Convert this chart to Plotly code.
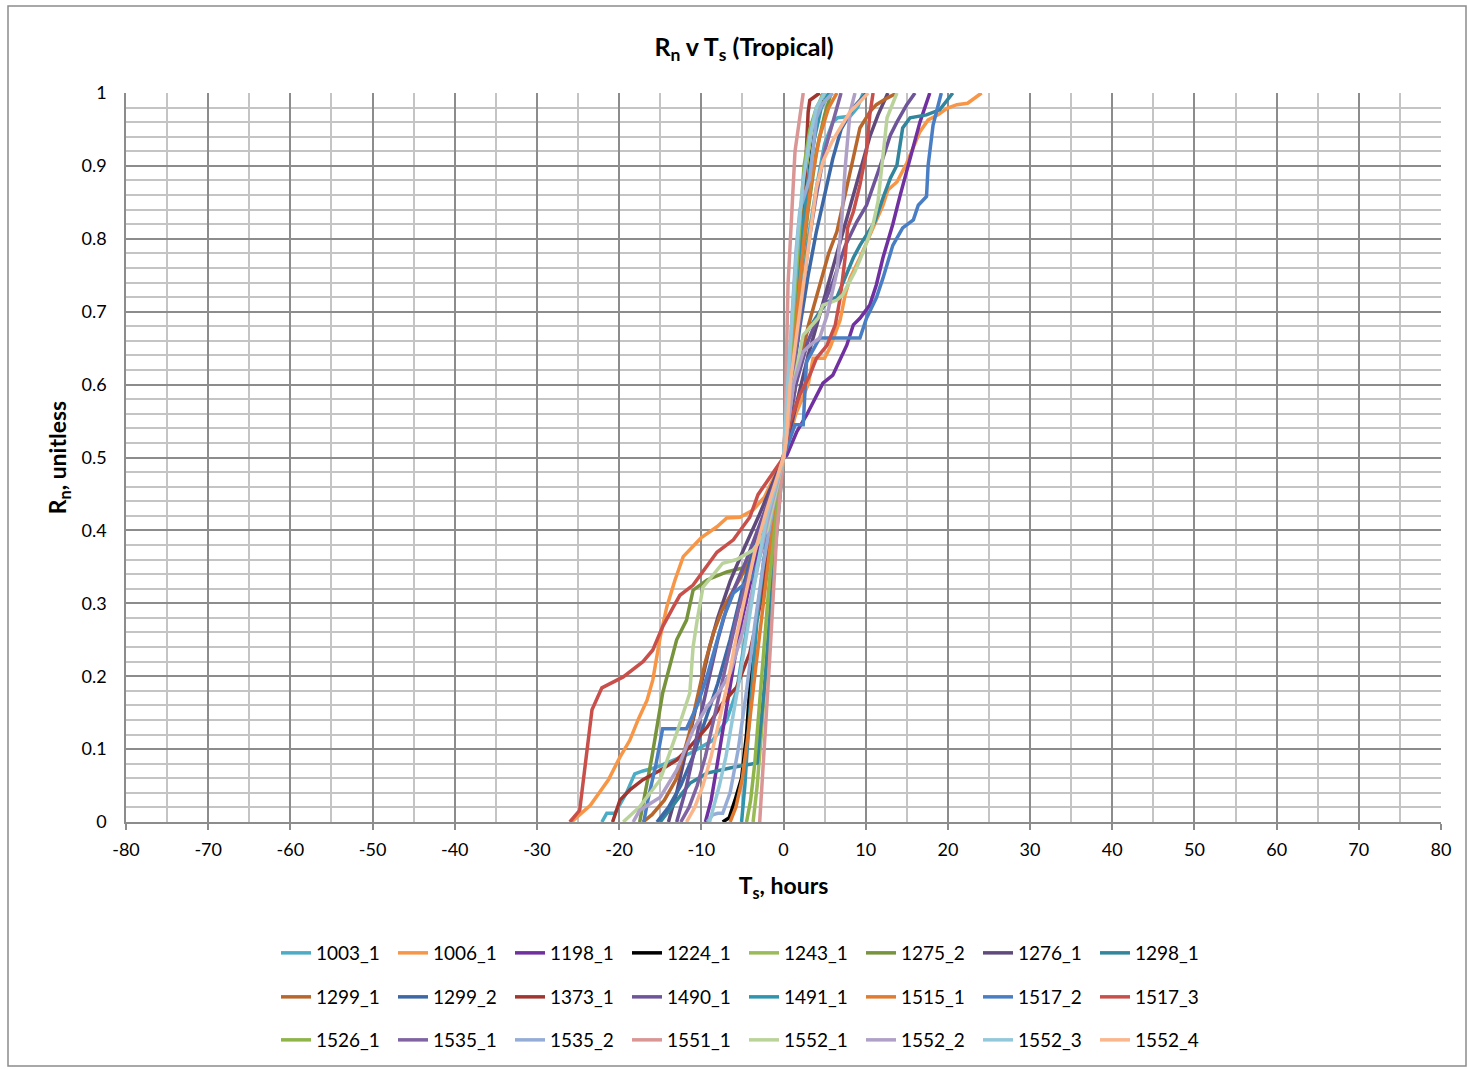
import plotly.graph_objects as go

# ---------------- data ----------------
series_names = ["1003_1", "1006_1", "1198_1", "1224_1", "1243_1", "1275_2", "1276_1", "1298_1",
                "1299_1", "1299_2", "1373_1", "1490_1", "1491_1", "1515_1", "1517_2", "1517_3",
                "1526_1", "1535_1", "1535_2", "1551_1", "1552_1", "1552_2", "1552_3", "1552_4"]

series_colors = ["#4BACC6", "#F79646", "#7030A0", "#000000", "#9BBB59", "#77933C", "#604A7B", "#31859C",
                 "#B7662C", "#3C68A6", "#A0362F", "#6E5599", "#2F95AE", "#E07B30", "#4A7EC4", "#C9504A",
                 "#8EB44A", "#8064A2", "#95ADD6", "#D99694", "#BAD39A", "#AFA0C8", "#93C8DA", "#FAB68C"]

t_1003_1 = [-22.1, -21.5, -20.5, -19.1, -18.1, -17.1, -15.5, -14.2, -11.4, -8.6, -6.9, -5.7, -4.9, -4.0, -3.0, -1.5, 0.0,
            1.0, 2.0, 3.0, 4.0, 5.0, 6.0, 6.6, 8.1, 9.0, 9.7]
rn_1003_1 = [0.0, 0.012, 0.012, 0.04, 0.066, 0.07, 0.075, 0.081, 0.094, 0.112, 0.14, 0.18, 0.236, 0.3, 0.37, 0.44, 0.5,
             0.6, 0.7, 0.8, 0.87, 0.93, 0.96, 0.966, 0.968, 0.98, 1.0]

t_1006_1 = [-25.8, -23.5, -21.3, -19.9, -18.7, -17.7, -16.6, -15.9, -15.0, -14.2, -13.2, -12.2, -10.0, -8.1, -6.9, -5.3,
            -3.7, -2.3, 0.0, 1.5, 3.0, 3.6, 5.0, 5.7, 6.9, 7.5, 8.1, 9.3, 10.9, 12.1, 12.7, 13.8, 15.0, 16.6, 17.6, 18.8,
            19.9, 21.1, 22.4, 24.1]
rn_1006_1 = [0.0, 0.023, 0.058, 0.089, 0.112, 0.14, 0.167, 0.195, 0.254, 0.295, 0.332, 0.364, 0.39, 0.405, 0.417, 0.418,
             0.428, 0.446, 0.5, 0.56, 0.6, 0.636, 0.636, 0.652, 0.689, 0.723, 0.746, 0.774, 0.815, 0.846, 0.867, 0.878,
             0.904, 0.947, 0.963, 0.97, 0.979, 0.984, 0.986, 1.0]

t_1198_1 = [-9.5, -8.8, -8.2, -7.5, -6.8, -6.0, -5.0, -4.0, -3.0, -1.5, 0.0, 0.4, 1.6, 2.8, 3.6, 4.8, 6.0, 7.7, 8.5, 9.3,
            10.5, 11.3, 12.1, 13.3, 14.2, 15.4, 16.6, 17.8]
rn_1198_1 = [0.0, 0.03, 0.07, 0.12, 0.17, 0.22, 0.28, 0.33, 0.38, 0.44, 0.5, 0.503, 0.535, 0.558, 0.576, 0.602, 0.613,
             0.654, 0.682, 0.691, 0.709, 0.737, 0.774, 0.82, 0.86, 0.91, 0.96, 1.0]

t_1224_1 = [-7.4, -6.6, -5.9, -5.1, -4.5, -4.0, -3.3, -2.3, -1.2, 0.0, 0.8, 1.6, 2.4, 3.2, 4.0, 4.8]
rn_1224_1 = [0.0, 0.006, 0.03, 0.06, 0.12, 0.2, 0.28, 0.36, 0.43, 0.5, 0.6, 0.7, 0.8, 0.9, 0.96, 1.0]

t_1243_1 = [-3.7, -3.2, -2.7, -2.1, -1.4, -0.7, 0.0, 0.6, 1.3, 2.0, 2.8, 3.5, 4.8]
rn_1243_1 = [0.0, 0.05, 0.12, 0.22, 0.33, 0.42, 0.5, 0.6, 0.7, 0.8, 0.9, 0.96, 1.0]

t_1275_2 = [-17.5, -16.6, -16.0, -14.7, -13.0, -11.8, -11.0, -9.3, -6.9, -4.5, -2.5, 0.0, 1.0, 2.0, 3.0, 4.0, 5.0, 5.8]
rn_1275_2 = [0.0, 0.053, 0.09, 0.177, 0.25, 0.277, 0.318, 0.332, 0.343, 0.35, 0.4, 0.5, 0.62, 0.74, 0.84, 0.92, 0.97, 1.0]

t_1276_1 = [-14.0, -13.0, -12.0, -11.0, -10.0, -9.0, -8.0, -6.5, -5.0, -3.0, 0.0, 1.5, 3.0, 4.5, 6.0, 7.5, 9.0, 10.5,
            11.5, 12.7]
rn_1276_1 = [0.0, 0.04, 0.09, 0.14, 0.19, 0.24, 0.28, 0.33, 0.37, 0.42, 0.5, 0.57, 0.64, 0.7, 0.76, 0.82, 0.88, 0.94,
             0.97, 1.0]

t_1298_1 = [-15.0, -13.0, -11.4, -9.3, -6.1, -3.2, -2.2, -1.2, 0.0, 1.0, 2.4, 4.4, 5.3, 6.5, 8.5, 9.3, 10.1, 11.1, 12.1,
            13.0, 13.8, 14.2, 14.5, 15.4, 17.4, 19.0, 20.6]
rn_1298_1 = [0.0, 0.03, 0.053, 0.067, 0.075, 0.081, 0.2, 0.35, 0.5, 0.58, 0.664, 0.7, 0.713, 0.72, 0.774, 0.791, 0.805,
             0.823, 0.856, 0.883, 0.901, 0.929, 0.952, 0.966, 0.97, 0.977, 1.0]

t_1299_1 = [-17.1, -16.0, -14.5, -13.0, -11.5, -10.5, -9.5, -8.5, -7.5, -6.0, -4.0, -2.0, 0.0, 1.5, 3.0, 4.5, 5.5, 6.5,
            7.2, 8.1, 9.3, 10.5, 11.3, 12.6, 13.8]
rn_1299_1 = [0.0, 0.01, 0.03, 0.06, 0.12, 0.17, 0.22, 0.26, 0.29, 0.32, 0.36, 0.42, 0.5, 0.6, 0.68, 0.74, 0.78, 0.81,
             0.846, 0.892, 0.952, 0.974, 0.984, 0.993, 1.0]

t_1299_2 = [-15.4, -14.0, -12.5, -11.0, -9.5, -8.0, -6.5, -5.0, -3.5, -2.0, 0.0, 1.0, 2.0, 3.0, 4.0, 5.0, 6.0, 7.0, 8.5,
            10.1]
rn_1299_2 = [0.0, 0.02, 0.05, 0.09, 0.14, 0.19, 0.25, 0.32, 0.38, 0.43, 0.5, 0.6, 0.68, 0.75, 0.81, 0.86, 0.91, 0.95,
             0.98, 1.0]

t_1373_1 = [-20.8, -19.9, -18.7, -17.1, -15.0, -13.0, -11.4, -9.3, -7.4, -5.7, -4.1, -2.8, -1.5, 0.0, 0.8, 1.5, 2.2,
            2.6, 3.0, 3.2, 4.4]
rn_1373_1 = [0.0, 0.03, 0.044, 0.058, 0.071, 0.085, 0.103, 0.13, 0.163, 0.185, 0.232, 0.3, 0.4, 0.5, 0.6, 0.7, 0.782,
             0.874, 0.974, 0.99, 1.0]

t_1490_1 = [-13.0, -12.0, -11.0, -10.0, -9.0, -8.0, -7.0, -6.0, -4.5, -2.5, 0.0, 1.5, 3.0, 4.5, 6.0, 7.5, 8.9, 10.1,
            11.3, 12.1, 13.0, 13.8, 15.0, 16.0]
rn_1490_1 = [0.0, 0.04, 0.09, 0.15, 0.2, 0.25, 0.29, 0.32, 0.36, 0.42, 0.5, 0.6, 0.66, 0.7, 0.74, 0.79, 0.823, 0.846,
             0.883, 0.911, 0.942, 0.96, 0.984, 1.0]

t_1491_1 = [-5.1, -4.7, -4.3, -3.8, -3.2, -2.4, -1.3, 0.0, 0.8, 1.5, 2.2, 3.0, 3.8, 4.6, 5.5]
rn_1491_1 = [0.0, 0.05, 0.12, 0.2, 0.28, 0.36, 0.43, 0.5, 0.6, 0.7, 0.8, 0.88, 0.94, 0.98, 1.0]

t_1515_1 = [-6.5, -5.8, -5.0, -4.2, -3.4, -2.6, -1.6, -0.7, 0.0, 0.8, 1.6, 2.5, 3.4, 4.4, 5.5, 6.5]
rn_1515_1 = [0.0, 0.02, 0.06, 0.13, 0.21, 0.29, 0.38, 0.45, 0.5, 0.6, 0.7, 0.8, 0.88, 0.94, 0.98, 1.0]

t_1517_2 = [-17.0, -16.5, -15.5, -14.7, -11.8, -10.5, -9.3, -8.3, -7.3, -6.1, -3.7, -2.2, 0.0, 1.4, 2.4, 2.8, 4.4, 9.3,
            10.1, 11.3, 12.1, 13.3, 14.5, 15.8, 16.4, 17.4, 17.6, 18.2, 19.2]
rn_1517_2 = [0.0, 0.03, 0.08, 0.128, 0.128, 0.16, 0.2, 0.24, 0.28, 0.314, 0.336, 0.39, 0.5, 0.545, 0.545, 0.631, 0.664,
             0.664, 0.691, 0.719, 0.746, 0.791, 0.815, 0.826, 0.846, 0.858, 0.901, 0.956, 1.0]

t_1517_3 = [-26.0, -24.8, -23.3, -22.1, -19.5, -17.1, -15.9, -14.7, -13.4, -12.6, -11.0, -9.5, -8.1, -6.1, -4.1, -3.1,
            0.0, 0.8, 2.0, 3.2, 4.0, 5.3, 6.3, 6.9, 7.5, 7.8, 8.5, 9.3, 10.1, 10.5, 10.9]
rn_1517_3 = [0.0, 0.016, 0.154, 0.184, 0.199, 0.22, 0.236, 0.268, 0.295, 0.311, 0.325, 0.348, 0.37, 0.387, 0.418, 0.449,
             0.5, 0.549, 0.586, 0.613, 0.636, 0.654, 0.682, 0.719, 0.774, 0.815, 0.837, 0.874, 0.92, 0.97, 1.0]

t_1526_1 = [-4.5, -4.0, -3.5, -3.0, -2.5, -1.8, -1.0, 0.0, 0.6, 1.2, 1.8, 2.5, 3.2, 4.0, 5.0]
rn_1526_1 = [0.0, 0.03, 0.08, 0.15, 0.23, 0.32, 0.41, 0.5, 0.6, 0.7, 0.8, 0.9, 0.95, 0.98, 1.0]

t_1535_1 = [-12.5, -11.5, -10.5, -9.5, -8.5, -7.5, -6.5, -5.5, -4.0, -2.5, 0.0, 1.0, 2.0, 3.0, 4.0, 5.0, 6.0, 7.0]
rn_1535_1 = [0.0, 0.02, 0.05, 0.09, 0.14, 0.19, 0.24, 0.29, 0.35, 0.41, 0.5, 0.6, 0.7, 0.79, 0.86, 0.92, 0.96, 1.0]

t_1535_2 = [-9.3, -8.6, -8.0, -7.4, -6.5, -5.5, -4.5, -3.5, -2.5, -1.3, 0.0, 0.5, 1.0, 1.5, 2.0, 3.2, 4.0, 4.7, 6.0]
rn_1535_2 = [0.0, 0.01, 0.012, 0.012, 0.04, 0.1, 0.18, 0.27, 0.35, 0.43, 0.5, 0.6, 0.7, 0.78, 0.84, 0.883, 0.966, 0.985,
             1.0]

t_1551_1 = [-2.9, -2.5, -2.1, -1.7, -1.3, -0.8, 0.0, 0.2, 0.55, 1.0, 1.4, 2.4]
rn_1551_1 = [0.0, 0.07, 0.15, 0.22, 0.3, 0.4, 0.5, 0.55, 0.737, 0.828, 0.92, 1.0]

t_1552_1 = [-19.5, -17.5, -15.0, -13.0, -11.4, -11.0, -10.5, -9.8, -7.4, -5.7, -3.7, -2.0, 0.0, 1.2, 2.4, 3.2, 4.2, 4.8,
            6.5, 7.2, 8.7, 9.7, 10.9, 11.5, 12.1, 12.6, 13.8]
rn_1552_1 = [0.0, 0.021, 0.058, 0.122, 0.177, 0.24, 0.277, 0.322, 0.355, 0.36, 0.373, 0.4, 0.5, 0.6, 0.668, 0.678,
             0.691, 0.709, 0.716, 0.723, 0.755, 0.782, 0.82, 0.851, 0.919, 0.966, 1.0]

t_1552_2 = [-18.3, -17.5, -15.0, -13.0, -11.0, -9.3, -7.7, -6.5, -5.0, -3.5, -2.0, 0.0, 1.2, 2.4, 3.2, 4.4, 5.3, 6.5,
            7.1, 7.5, 8.1, 8.7]
rn_1552_2 = [0.0, 0.016, 0.034, 0.071, 0.126, 0.158, 0.181, 0.204, 0.26, 0.33, 0.41, 0.5, 0.6, 0.645, 0.654, 0.664,
             0.695, 0.755, 0.828, 0.897, 0.974, 1.0]

t_1552_3 = [-9.0, -8.5, -7.8, -7.0, -6.2, -5.3, -4.3, -3.2, -2.0, 0.0, 0.5, 1.1, 1.7, 2.4, 3.2, 4.0, 5.0]
rn_1552_3 = [0.0, 0.02, 0.05, 0.09, 0.14, 0.2, 0.27, 0.35, 0.42, 0.5, 0.6, 0.7, 0.8, 0.88, 0.94, 0.98, 1.0]

t_1552_4 = [-11.8, -10.8, -9.8, -8.8, -7.8, -6.8, -5.8, -4.8, -3.5, -2.0, 0.0, 0.3, 0.8, 1.6, 2.4, 3.2, 4.0, 4.8, 5.9,
            6.9, 8.1, 9.3, 10.3]
rn_1552_4 = [0.0, 0.02, 0.05, 0.09, 0.14, 0.19, 0.25, 0.3, 0.37, 0.43, 0.5, 0.52, 0.6, 0.668, 0.737, 0.805, 0.87, 0.906,
             0.933, 0.952, 0.974, 0.988, 1.0]

series_t = [t_1003_1, t_1006_1, t_1198_1, t_1224_1, t_1243_1, t_1275_2, t_1276_1, t_1298_1,
            t_1299_1, t_1299_2, t_1373_1, t_1490_1, t_1491_1, t_1515_1, t_1517_2, t_1517_3,
            t_1526_1, t_1535_1, t_1535_2, t_1551_1, t_1552_1, t_1552_2, t_1552_3, t_1552_4]
series_rn = [rn_1003_1, rn_1006_1, rn_1198_1, rn_1224_1, rn_1243_1, rn_1275_2, rn_1276_1, rn_1298_1,
             rn_1299_1, rn_1299_2, rn_1373_1, rn_1490_1, rn_1491_1, rn_1515_1, rn_1517_2, rn_1517_3,
             rn_1526_1, rn_1535_1, rn_1535_2, rn_1551_1, rn_1552_1, rn_1552_2, rn_1552_3, rn_1552_4]

x_ticks = [-80, -70, -60, -50, -40, -30, -20, -10, 0, 10, 20, 30, 40, 50, 60, 70, 80]
y_ticks = [0, 0.1, 0.2, 0.3, 0.4, 0.5, 0.6, 0.7, 0.8, 0.9, 1]

# ---------------- figure ----------------
FONT = "Lato, 'Open Sans', sans-serif"
W, H = 1468, 1069
L, R, T, B = 126, 27, 93, 247
PW, PH = W - L - R, H - T - B

fig = go.Figure()
legend_ids = ["legend", "legend2", "legend3"]
for i, (name, color, tv, rv) in enumerate(zip(series_names, series_colors, series_t, series_rn)):
    fig.add_trace(go.Scatter(
        x=tv, y=rv, mode="lines", name=name,
        line=dict(color=color, width=3.5),
        legend=legend_ids[i // 8],
        hovertemplate=name + ": T=%{x}, Rn=%{y}<extra></extra>",
    ))


def legend_cfg(py):
    return dict(
        orientation="h", x=(276 - L) / PW, xanchor="left",
        y=(PH + T - py) / PH, yanchor="middle",
        entrywidth=72, entrywidthmode="pixels",
        font=dict(family=FONT, size=19, color="#000000"),
        bgcolor="rgba(0,0,0,0)", borderwidth=0, itemwidth=30,
        traceorder="normal",
    )


fig.update_layout(
    width=W, height=H,
    margin=dict(l=L, r=R, t=T, b=B, autoexpand=False),
    paper_bgcolor="white", plot_bgcolor="white",
    font=dict(family=FONT, size=18, color="#000000"),
    title=dict(text="<b>R<sub>n</sub> v T<sub>s</sub> (Tropical)</b>",
               x=744 / W, xref="container", xanchor="center",
               y=1 - 47 / H, yref="container", yanchor="middle",
               font=dict(family=FONT, size=25, color="#000000")),
    legend=legend_cfg(953),
    legend2=legend_cfg(997),
    legend3=legend_cfg(1040),
    showlegend=True,
)

fig.update_xaxes(
    range=[-80, 80], tickmode="array", tickvals=x_ticks, ticktext=[str(v) for v in x_ticks],
    showgrid=True, gridcolor="#8C8C8C", gridwidth=1.5,
    minor=dict(dtick=5, tick0=0, showgrid=True, gridcolor="#C4C4C4", gridwidth=1.5, ticks=""),
    showline=True, linecolor="#8C8C8C", linewidth=1.5, mirror=False,
    ticks="outside", ticklen=6, tickcolor="#8C8C8C", tickwidth=1.5, ticklabelstandoff=5,
    zeroline=False, tickfont=dict(family=FONT, size=18),
    title=dict(text="<b>T<sub>s</sub>, hours</b>", font=dict(family=FONT, size=23), standoff=19),
)
fig.update_yaxes(
    range=[0, 1], tickmode="array", tickvals=y_ticks, ticktext=[f"{v:g}" for v in y_ticks],
    showgrid=True, gridcolor="#8C8C8C", gridwidth=1.5,
    minor=dict(dtick=0.02, tick0=0, showgrid=True, gridcolor="#C4C4C4", gridwidth=1.5, ticks=""),
    showline=True, linecolor="#8C8C8C", linewidth=1.5, mirror=False,
    ticks="", ticklabelstandoff=14, zeroline=False, tickfont=dict(family=FONT, size=18),
    title=dict(text="<b>R<sub>n</sub>, unitless</b>", font=dict(family=FONT, size=23), standoff=8),
)

# outer chart border
fig.add_shape(type="rect", xref="paper", yref="paper",
              x0=(8 - L) / PW, x1=(1466 - L) / PW,
              y0=(PH + T - 1066) / PH, y1=(PH + T - 6) / PH,
              line=dict(color="#8C8C8C", width=1.5), fillcolor="rgba(0,0,0,0)", layer="below")

fig.write_html("out.html", config={"displayModeBar": False},
               post_script="document.body.style.margin='0';document.body.style.overflow='hidden';")
